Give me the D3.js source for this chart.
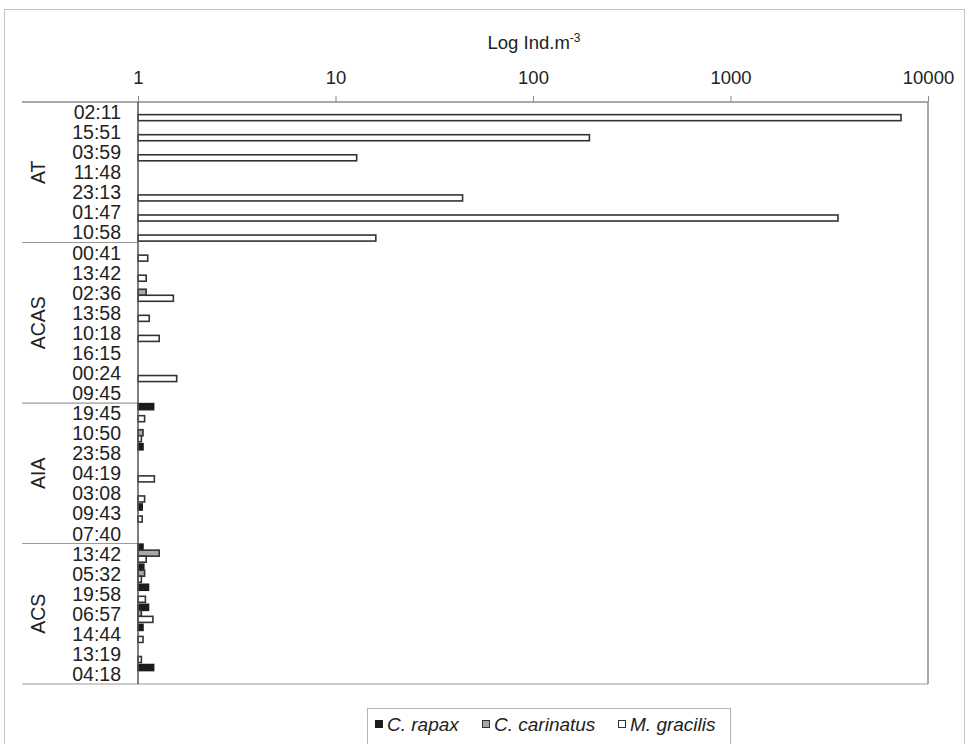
<!DOCTYPE html>
<html>
<head>
<meta charset="utf-8">
<script src="https://cdn.jsdelivr.net/npm/d3@7/dist/d3.min.js"></script>
<style>
  html, body { margin: 0; padding: 0; background: #fff; }
  svg { display: block; font-family: "Liberation Sans", Arial, sans-serif; }
</style>
</head>
<body>
<svg id="chart" width="969" height="744"></svg>
<script>
// Sampling times, grouped by water mass
const groupNames = ["AT", "ACAS", "AIA", "ACS"];
const groupSizes = [7, 8, 7, 7];
const times = [
  "02:11", "15:51", "03:59", "11:48", "23:13", "01:47", "10:58",
  "00:41", "13:42", "02:36", "13:58", "10:18", "16:15", "00:24", "09:45",
  "19:45", "10:50", "23:58", "04:19", "03:08", "09:43", "07:40",
  "13:42", "05:32", "19:58", "06:57", "14:44", "13:19", "04:18"
];

// Densities (ind. m^-3); null = not recorded
const rapax = [
  null, null, null, null, null, null, null,
  null, null, null, null, null, null, null, null,
  1.2, null, 1.06, null, null, 1.05, null,
  1.06, 1.07, 1.13, 1.13, 1.06, null, 1.2
];
const carinatus = [
  null, null, null, null, null, null, null,
  null, null, 1.1, null, null, null, null, null,
  null, 1.06, null, null, null, null, null,
  1.28, 1.08, null, 1.04, null, null, null
];
const gracilis = [
  7300, 193, 12.8, null, 44, 3500, 16,
  1.12, 1.1, 1.51, 1.14, 1.28, null, 1.57, null,
  1.08, 1.04, null, 1.21, 1.08, 1.05, null,
  1.1, 1.04, 1.09, 1.19, 1.06, 1.04, null
];

const seriesNames = ["C. rapax", "C. carinatus", "M. gracilis"];
const seriesValues = [rapax, carinatus, gracilis];
const seriesFill = ["#1c1c1c", "#a8a8a8", "#ffffff"];
const seriesStroke = ["#1c1c1c", "#333333", "#333333"];

const tickValues = [1, 10, 100, 1000, 10000];

const svg = d3.select("#chart");
const plotLeft = 138, plotRight = 928, plotTop = 102, plotBottom = 684;

// Outer frame
svg.append("rect")
  .attr("x", 4.5).attr("y", 9.5).attr("width", 960).attr("height", 780)
  .attr("fill", "none").attr("stroke", "#c4c4c4").attr("stroke-width", 1);

const x = d3.scaleLog().domain([1, 10000]).range([plotLeft, plotRight]);
const y = d3.scaleBand().domain(d3.range(times.length)).range([plotTop, plotBottom]);
const sub = d3.scaleBand().domain(d3.range(seriesNames.length))
  .range([y.bandwidth() * 0.03, y.bandwidth() * 0.93]);

// Plot frame: right edge
svg.append("line").attr("x1", plotRight).attr("x2", plotRight).attr("y1", plotTop).attr("y2", plotBottom)
  .attr("stroke", "#8c8c8c").attr("stroke-width", 1.5);

// Group separators running into the left margin
const boundaries = [0];
groupSizes.forEach((n, i) => boundaries.push(boundaries[i] + n));
boundaries.forEach((b, i) => {
  const yy = b < times.length ? y(b) : plotBottom;
  const xEnd = (i === 0 || i === boundaries.length - 1) ? plotRight : plotLeft;
  svg.append("line").attr("x1", 22).attr("x2", xEnd).attr("y1", yy).attr("y2", yy)
    .attr("stroke", i === 0 ? "#8c8c8c" : "#9a9a9a").attr("stroke-width", i === 0 ? 1.5 : 1.2);
});

// Top value axis
const axis = svg.append("g").attr("transform", `translate(0,${plotTop})`)
  .call(d3.axisTop(x).tickValues(tickValues).tickFormat(d3.format("d"))
    .tickSize(6).tickPadding(12));
axis.select(".domain").remove();
axis.selectAll(".tick line").attr("stroke", "#8c8c8c");
axis.selectAll(".tick text").attr("font-size", 18.5).attr("fill", "#222")
  .attr("font-family", "Liberation Sans, Arial, sans-serif");

// Axis title
const title = svg.append("text").attr("x", 534).attr("y", 49)
  .attr("text-anchor", "middle").attr("font-size", 18.5).attr("fill", "#222");
title.append("tspan").text("Log Ind.m");
title.append("tspan").attr("dy", -7).attr("font-size", 12).text("-3");

// Bars
seriesValues.forEach((vals, s) => {
  svg.append("g").selectAll("rect")
    .data(vals.map((v, i) => ({ v, i })).filter(d => d.v != null && d.v > 1))
    .join("rect")
    .attr("x", x(1))
    .attr("y", d => y(d.i) + sub(s))
    .attr("width", d => x(d.v) - x(1))
    .attr("height", sub.bandwidth())
    .attr("fill", seriesFill[s])
    .attr("stroke", seriesStroke[s])
    .attr("stroke-width", 1.6);
});

// Category axis line
svg.append("line").attr("x1", plotLeft).attr("x2", plotLeft).attr("y1", plotTop).attr("y2", plotBottom)
  .attr("stroke", "#555").attr("stroke-width", 1.5);

// Time labels
svg.append("g").selectAll("text").data(times).join("text")
  .attr("x", 121)
  .attr("y", (d, i) => y(i) + y.bandwidth() / 2)
  .attr("dy", "0.36em")
  .attr("text-anchor", "end")
  .attr("font-size", 19.5)
  .attr("fill", "#222")
  .text(d => d);

// Group labels
groupNames.forEach((g, i) => {
  const y0 = y(boundaries[i]);
  const y1 = boundaries[i + 1] < times.length ? y(boundaries[i + 1]) : plotBottom;
  const cy = (y0 + y1) / 2;
  svg.append("text")
    .attr("transform", `translate(38,${cy}) rotate(-90)`)
    .attr("dy", "0.36em")
    .attr("text-anchor", "middle")
    .attr("font-size", 19.5)
    .attr("fill", "#222")
    .text(g);
});

// Legend
const legend = svg.append("g");
legend.append("rect").attr("x", 367.5).attr("y", 708.5).attr("width", 363).attr("height", 60)
  .attr("fill", "#fff").attr("stroke", "#b4b4b4");
const legendX = [375, 482, 618];
seriesNames.forEach((name, s) => {
  legend.append("rect").attr("x", legendX[s] + 0.5).attr("y", 720.5).attr("width", 7).attr("height", 7)
    .attr("fill", seriesFill[s]).attr("stroke", s === 0 ? "#1c1c1c" : "#333").attr("stroke-width", 1);
  legend.append("text").attr("x", legendX[s] + 12).attr("y", 724).attr("dy", "0.36em")
    .attr("font-size", 19).attr("font-style", "italic").attr("fill", "#222").text(name);
});
</script>
</body>
</html>
